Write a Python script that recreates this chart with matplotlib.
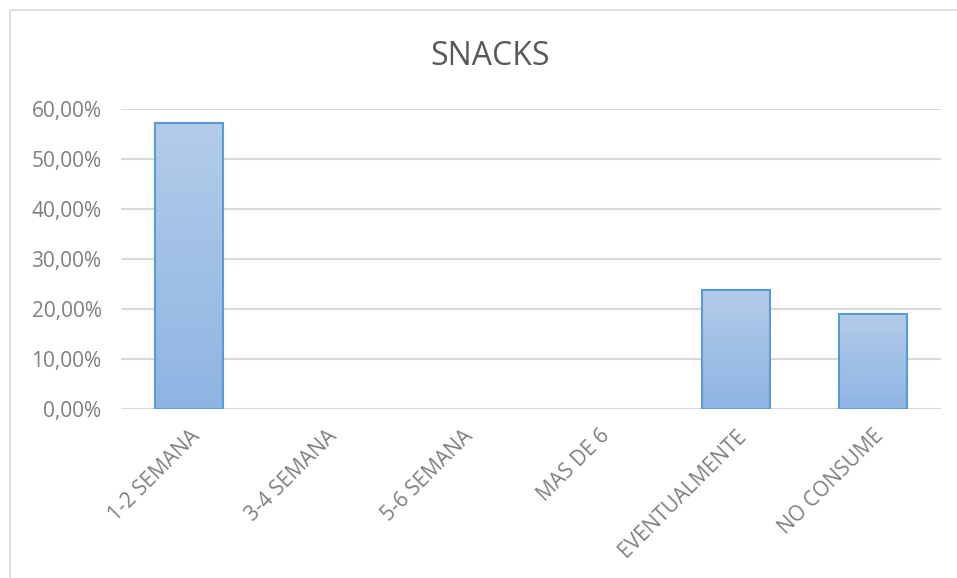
import matplotlib
matplotlib.use("Agg")
import matplotlib.pyplot as plt
import numpy as np
from matplotlib.colors import LinearSegmentedColormap
from matplotlib.patches import Rectangle
from matplotlib.ticker import FuncFormatter

categorias = ["1-2 SEMANA", "3-4 SEMANA", "5-6 SEMANA", "MAS DE 6",
              "EVENTUALMENTE", "NO CONSUME"]
porcentajes = [0.5714, 0.0, 0.0, 0.0, 0.2381, 0.1905]
ticks_y = [0.0, 0.1, 0.2, 0.3, 0.4, 0.5, 0.6]

plt.rcParams["font.family"] = ["Open Sans", "DejaVu Sans"]
gris = "#7f7f7f"

fig = plt.figure(figsize=(9.57, 5.78), dpi=100)
ax = fig.add_axes([0.1264, 0.2924, 0.8569, 0.519])

x = np.arange(len(categorias))
# las barras en cero no llevan borde
bordes = [1.5 if v > 0 else 0 for v in porcentajes]
barras = ax.bar(x, porcentajes, width=0.5, color="none",
                edgecolor="#5b9bd5", linewidth=bordes, zorder=3)

# relleno degradado de cada barra (claro arriba, más oscuro abajo)
degradado = LinearSegmentedColormap.from_list("deg", ["#8fb4e3", "#b3cce9"])
grad = np.linspace(0, 1, 256).reshape(-1, 1)
for b in barras:
    h = b.get_height()
    if h <= 0:
        continue
    x0 = b.get_x()
    im = ax.imshow(grad, cmap=degradado, origin="lower", aspect="auto",
                   extent=[x0, x0 + b.get_width(), 0, h], zorder=2)
    im.set_clip_path(b)

ax.set_xlim(-0.5, len(categorias) - 0.5)
ax.set_ylim(0, 0.6)
ax.set_yticks(ticks_y)
ax.yaxis.set_major_formatter(FuncFormatter(
    lambda v, p: f"{v * 100:.2f}%".replace(".", ",")))
ax.set_xticks(x)
ax.set_xticklabels(categorias, rotation=45, ha="right", va="top",
                   rotation_mode="anchor")
ax.tick_params(axis="both", length=0, colors=gris, labelsize=15)
ax.tick_params(axis="y", pad=14)
ax.tick_params(axis="x", pad=12)

ax.grid(axis="y", color="#d9d9d9", linewidth=1.5, zorder=0)
ax.set_axisbelow(True)
for s in ax.spines.values():
    s.set_visible(False)

fig.text(0.512, 0.902, "SNACKS", ha="center", va="center",
         fontsize=23, color="#595959")

# borde del área del gráfico
fig.patches.append(Rectangle((0.0105, -0.05), 1.2, 1.033,
                             transform=fig.transFigure, fill=False,
                             edgecolor="#d9d9d9", linewidth=1.2))

fig.savefig("out.png", dpi=100)
